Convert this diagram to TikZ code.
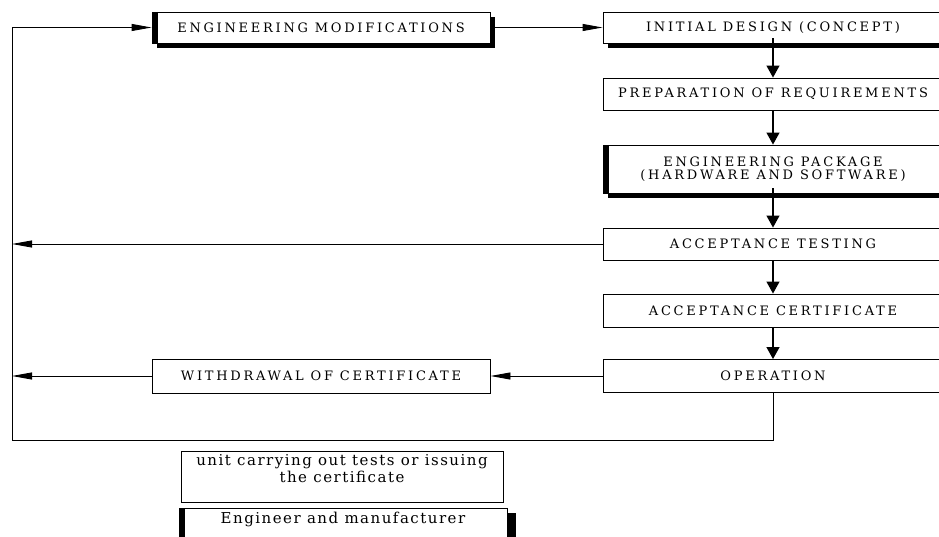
\documentclass[tikz,border=0pt]{standalone}
\usepackage{fontspec}
\setmainfont{DejaVu Serif}
\newfontfamily\capsfont[LetterSpace=21]{DejaVu Serif}
\newfontfamily\lowfont[LetterSpace=10]{DejaVu Serif}
\usetikzlibrary{arrows.meta,shadows}
\tikzset{
  box/.style={draw, line width=0.9pt, fill=white, rectangle, inner sep=0pt,
    align=center, font=\capsfont\fontsize{13}{13}\selectfont},
  wide/.style={minimum width=340pt},
  shadowbox/.style={drop shadow={shadow xshift=5pt, shadow yshift=-5pt, fill=black, opacity=1}},
  thickleft/.style={path picture={\draw[line width=11pt] (path picture bounding box.north west) -- (path picture bounding box.south west);}},
  varrow/.style={line width=1.2pt, -{Triangle[width=13pt,length=12pt]}},
  harrow/.style={line width=0.9pt, -{Triangle[width=7pt,length=20pt]}},
  plain/.style={line width=0.9pt},
  lowtext/.style={anchor=north, align=center, inner sep=0pt, font=\lowfont\fontsize{15}{14.5}\selectfont}
}
\begin{document}
\begin{tikzpicture}[x=1pt,y=-1pt]
\useasboundingbox (0,0) rectangle (939,537);
\clip (0,0) rectangle (939,537);
% nodes
\node[box, shadowbox, thickleft, minimum width=338pt, minimum height=31pt] (EM) at (321,27.5) {ENGINEERING MODIFICATIONS};
\node[box, shadowbox, wide, minimum height=31pt] (ID) at (773,27.5) {INITIAL DESIGN (CONCEPT)};
\node[box, wide, minimum height=32pt] (PR) at (773,94) {PREPARATION OF REQUIREMENTS};
\node[box, shadowbox, thickleft, wide, minimum height=48pt] (EP) at (773,169) {ENGINEERING PACKAGE\\(HARDWARE AND SOFTWARE)};
\node[box, wide, minimum height=32pt] (AT) at (773,244) {ACCEPTANCE TESTING};
\node[box, wide, minimum height=33pt] (AC) at (773,310.5) {ACCEPTANCE CERTIFICATE};
\node[box, wide, minimum height=33pt] (OP) at (773,376) {OPERATION};
\node[box, minimum width=338pt, minimum height=34pt] (WD) at (321,376) {WITHDRAWAL OF CERTIFICATE};
\node[box, minimum width=322pt, minimum height=51pt,
  label={[lowtext, yshift=-4pt]north:{\strut unit carrying out tests or issuing\\the certificate}}] (UN) at (342,476.5) {};
\node[box, drop shadow={shadow xshift=9pt, shadow yshift=-5pt, fill=black, opacity=1}, thickleft, minimum width=328pt, minimum height=40pt,
  label={[lowtext, yshift=-4pt]north:{\strut Engineer and manufacturer}}] (EN) at (343,528) {};
% loop corners
\coordinate (BL) at (12,440);
\coordinate (BR) at (773,440);
% connectors
\draw[plain] (OP.south) -- (BR) -- (BL);
\draw[harrow] (BL) |- (EM.west);
\draw[harrow] ([xshift=5pt]EM.east) -- (ID.west);
\draw[varrow] ([yshift=5pt]ID.south) -- (PR.north);
\draw[varrow] (PR.south) -- (EP.north);
\draw[varrow] ([yshift=5pt]EP.south) -- (AT.north);
\draw[varrow] (AT.south) -- (AC.north);
\draw[varrow] (AC.south) -- (OP.north);
\draw[harrow] (AT.west) -- (AT.west -| BL);
\draw[harrow] (OP.west) -- (WD.east);
\draw[harrow] (WD.west) -- (WD.west -| BL);
\end{tikzpicture}
\end{document}
